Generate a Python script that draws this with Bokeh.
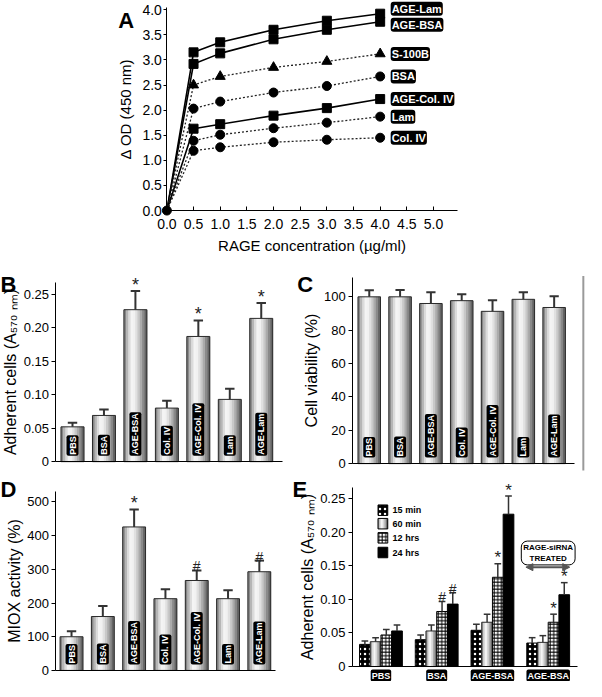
import math
from bokeh.plotting import figure
from bokeh.models import Range1d, FixedTicker, Label, Arrow, NormalHead, NumeralTickFormatter
from bokeh.layouts import column, row
from bokeh.core.properties import value
from bokeh.embed import file_html
from bokeh.resources import INLINE

FONT = "Liberation Sans"

# ---------------- Panel A data ----------------
conc = [0, 0.5, 1.0, 2.0, 3.0, 4.0]
a_names = ["AGE-Lam", "AGE-BSA", "S-100B", "BSA", "AGE-Col. IV", "Lam", "Col. IV"]
a_age_lam = [0, 3.15, 3.35, 3.60, 3.78, 3.92]
a_age_bsa = [0, 2.92, 3.13, 3.41, 3.60, 3.76]
a_s100b = [0, 2.50, 2.67, 2.85, 2.97, 3.12]
a_bsa = [0, 2.03, 2.17, 2.35, 2.48, 2.67]
a_age_col = [0, 1.63, 1.72, 1.89, 2.04, 2.22]
a_lam = [0, 1.39, 1.51, 1.64, 1.75, 1.87]
a_col = [0, 1.19, 1.26, 1.36, 1.41, 1.45]
a_markers = ["square", "square", "triangle", "circle", "square", "circle", "circle"]
a_solid = [True, True, False, False, True, False, False]
a_label_nudge = [-5, 3, 0, 0, 0, 0, 0]
a_xticks = [0, 0.5, 1.0, 1.5, 2.0, 2.5, 3.0, 3.5, 4.0, 4.5, 5.0]
a_yticks = [0, 0.5, 1.0, 1.5, 2.0, 2.5, 3.0, 3.5, 4.0]

# ---------------- Panels B, C, D data ----------------
treatments = ["PBS", "BSA", "AGE-BSA", "Col. IV", "AGE-Col. IV", "Lam", "AGE-Lam"]
b_vals = [0.052, 0.069, 0.227, 0.080, 0.187, 0.093, 0.214]
b_errs = [0.058, 0.078, 0.255, 0.091, 0.211, 0.109, 0.237]
b_marks = ["", "", "*", "", "*", "", "*"]
b_yticks = [0, 0.05, 0.10, 0.15, 0.20, 0.25]

c_vals = [100.0, 100.0, 96.0, 97.7, 91.3, 98.5, 93.6]
c_errs = [103.9, 104.1, 102.8, 101.6, 98.0, 102.8, 100.4]
c_yticks = [0, 20, 40, 60, 80, 100]

d_vals = [100, 160, 426, 213, 267, 213, 293]
d_errs = [116, 191, 478, 241, 297, 238, 326]
d_marks = ["", "", "*", "", "#", "", "#"]
d_yticks = [0, 100, 200, 300, 400, 500]

# ---------------- Panel E data ----------------
e_groups = ["PBS", "BSA", "AGE-BSA", "AGE-BSA"]
e_series = ["15 min", "60 min", "12 hrs", "24 hrs"]
e_15 = [0.033, 0.040, 0.054, 0.035]
e_15_err = [0.038, 0.047, 0.063, 0.043]
e_60 = [0.037, 0.053, 0.066, 0.036]
e_60_err = [0.043, 0.062, 0.078, 0.046]
e_12 = [0.047, 0.082, 0.133, 0.066]
e_12_err = [0.055, 0.097, 0.153, 0.078]
e_24 = [0.053, 0.093, 0.227, 0.107]
e_24_err = [0.062, 0.110, 0.254, 0.125]
e_12_marks = ["", "#", "*", "*"]
e_24_marks = ["", "#", "*", "*"]
e_yticks = [0, 0.05, 0.10, 0.15, 0.20, 0.25]
e_note = "RAGE-siRNA\nTREATED"

# reference-image pixel -> page pixel (page has an 8px margin)
SX, SY = 0.973, 0.977


def grad_color(t):
    peak = 0.38
    if t < peak:
        b = 0.97 - 0.55 * ((peak - t) / peak) ** 1.5
    else:
        b = 0.97 - 0.65 * ((t - peak) / (1 - peak)) ** 1.5
    v = int(round(max(0, min(1, b)) * 255))
    return "#%02x%02x%02x" % (v, v, v)


class Panel:
    """A figure whose frame fills its canvas; axes are drawn at fixed data locations."""

    def __init__(self, canvas, ax_ref, ay_ref, x_at_axis, pux_ref, puy_ref, xbounds, ybounds):
        l, t, r, b = canvas
        self.ax = 8 + SX * ax_ref
        self.ay = 8 + SY * ay_ref
        self.x0 = x_at_axis
        self.pux = pux_ref * SX
        self.puy = puy_ref * SY
        xs = x_at_axis - (self.ax - l) / self.pux
        xe = x_at_axis + (r - self.ax) / self.pux
        ys = -(b - self.ay) / self.puy
        ye = (self.ay - t) / self.puy
        p = figure(width=r - l, height=b - t, x_range=Range1d(xs, xe), y_range=Range1d(ys, ye),
                   output_backend="svg", toolbar_location=None, title=None,
                   min_border_left=0, min_border_right=0, min_border_top=0, min_border_bottom=0)
        p.grid.visible = False
        p.outline_line_color = None
        p.background_fill_color = "white"
        p.border_fill_color = "white"
        for axis in (p.xaxis[0], p.yaxis[0]):
            axis.minor_tick_line_color = None
            axis.axis_line_color = "black"
            axis.major_tick_line_color = "black"
            axis.major_label_text_font = FONT
            axis.major_label_text_color = "black"
            axis.axis_label_text_font = FONT
            axis.axis_label_text_font_style = "normal"
            axis.axis_label_text_color = "black"
        p.xaxis[0].fixed_location = 0
        p.yaxis[0].fixed_location = x_at_axis
        p.xaxis[0].bounds = xbounds
        p.yaxis[0].bounds = ybounds
        self.p = p

    def rx(self, ref_x):
        return self.x0 + (8 + SX * ref_x - self.ax) / self.pux

    def ry(self, ref_y):
        return (self.ay - (8 + SY * ref_y)) / self.puy

    def letter(self, txt, ref_left, ref_base):
        self.p.text(x=[self.rx(ref_left)], y=[self.ry(ref_base)], text=[txt], text_font=value(FONT),
                    text_font_style="bold", text_font_size="22px", text_color="black",
                    text_align="left", text_baseline="alphabetic")


def bar_axes(p, ticks, fmt, label, label_size="16px"):
    ax = p.yaxis[0]
    ax.ticker = FixedTicker(ticks=ticks)
    ax.formatter = NumeralTickFormatter(format=fmt)
    ax.major_label_overrides = {0: "0"}
    ax.major_tick_out = 4
    ax.major_tick_in = 0
    ax.major_label_standoff = 3
    ax.major_label_text_font_size = "13px"
    ax.axis_label = label
    ax.axis_label_text_font_size = label_size
    ax.axis_label_standoff = 1
    xa = p.xaxis[0]
    xa.ticker = FixedTicker(ticks=[])
    xa.major_tick_out = 0
    xa.major_tick_in = 0


def gradient_bars(p, xs, tops, width, n=10):
    sx, sw, st, sc = [], [], [], []
    for x, top in zip(xs, tops):
        for j in range(n):
            t = (j + 0.5) / n
            sx.append(x - width / 2 + t * width)
            sw.append(width / n * 1.2)
            st.append(top)
            sc.append(grad_color(t))
    p.vbar(x=sx, width=sw, top=st, bottom=0, fill_color=sc, line_color=None)
    p.vbar(x=xs, width=width, top=tops, bottom=0, fill_color=None,
           line_color="#2a2a2a", line_width=1)


def error_bars(p, xs, tops, errs, cap, lw=2, color="#333333"):
    p.segment(x0=xs, y0=tops, x1=xs, y1=errs, line_color=color, line_width=lw)
    p.segment(x0=[x - cap / 2 for x in xs], y0=errs, x1=[x + cap / 2 for x in xs], y1=errs,
              line_color=color, line_width=lw)


def marks(p, xs, errs, txts, size_star="18px", size_hash="14px"):
    sx = [x for x, t in zip(xs, txts) if t == "*"]
    sy = [e for e, t in zip(errs, txts) if t == "*"]
    hx = [x for x, t in zip(xs, txts) if t == "#"]
    hy = [e for e, t in zip(errs, txts) if t == "#"]
    if sx:
        p.text(x=sx, y=sy, text=["*"] * len(sx), text_font=value(FONT), text_font_size=size_star,
               text_align="center", text_baseline="alphabetic", y_offset=-6, text_color="#222222")
    if hx:
        p.text(x=hx, y=hy, text=["#"] * len(hx), text_font=value(FONT), text_font_size=size_hash,
               text_align="center", text_baseline="alphabetic", y_offset=-4, text_color="#222222")


def bar_labels(p, xs, names):
    p.text(x=xs, y=[0] * len(xs), text=names, angle=math.pi / 2, text_align="left",
           text_baseline="middle", y_offset=-6, text_color="white", text_font=value(FONT),
           text_font_style="bold", text_font_size="9px", background_fill_color="black",
           border_radius=2, padding=1)


# ================= Panel A =================
A = Panel((8, 8, 594, 264), 171, 215, 0, 54.8, 51.4, (0, 5.456), (0, 4.05))
pa = A.p
xa = pa.xaxis[0]
xa.ticker = FixedTicker(ticks=a_xticks)
xa.formatter = NumeralTickFormatter(format="0.0")
xa.major_tick_in = 4
xa.major_tick_out = 0
xa.major_label_standoff = 8
xa.major_label_text_font_size = "14px"
xa.axis_label = "RAGE concentration (\u00b5g/ml)"
xa.axis_label_text_font_size = "15px"
xa.axis_label_standoff = 5
ya = pa.yaxis[0]
ya.ticker = FixedTicker(ticks=a_yticks)
ya.formatter = NumeralTickFormatter(format="0.0")
ya.major_tick_out = 3
ya.major_tick_in = 0
ya.major_label_standoff = 2
ya.major_label_text_font_size = "14px"
ya.axis_label = "\u0394 OD (450 nm)"
ya.axis_label_text_font_size = "15px"
ya.axis_label_standoff = 5

a_series = [a_age_lam, a_age_bsa, a_s100b, a_bsa, a_age_col, a_lam, a_col]
for ys, solid in zip(a_series, a_solid):
    if solid:
        pa.line(conc, ys, line_color="black", line_width=1.6)
    else:
        pa.line(conc, ys, line_color="#222222", line_width=1.3, line_dash="2 2")
for ys, mk in zip(a_series, a_markers):
    sz = {"square": 9, "triangle": 10, "circle": 9}[mk]
    pa.scatter(conc[1:], ys[1:], marker=mk, size=sz, fill_color="black", line_color="black")
pa.scatter([conc[0]], [a_series[0][0]], marker="circle", size=9, fill_color="black", line_color="black")
pa.text(x=[A.rx(401)] * len(a_names), y=[s[-1] for s in a_series], text=a_names,
        y_offset=a_label_nudge, text_align="left", text_baseline="middle",
        text_color="white", text_font=value(FONT), text_font_style="bold", text_font_size="11px",
        background_fill_color="black", border_radius=3, padding=1)
A.letter("A", 121, 20)

# ================= Panel B =================
xs7 = list(range(1, len(treatments) + 1))
B = Panel((8, 264, 300, 479), 57, 472, 1 - 17 / 32.33, 32.33, (472 - 300.7) / 0.25,
          (1 - 17 / 32.33, 7.68), (0, 0.268))
pb = B.p
bar_axes(pb, b_yticks, "0.00", "Adherent cells (A\u2085\u2087\u2080 \u2099\u2098)")
gradient_bars(pb, xs7, b_vals, 0.73)
error_bars(pb, xs7, b_vals, b_errs, 0.3)
marks(pb, xs7, b_errs, b_marks)
bar_labels(pb, xs7, treatments)
B.letter("B", 0, 290.7)

# ================= Panel C =================
C = Panel((300, 264, 594, 479), 362, 474, 1 - 17 / 31.67, 31.67, (474 - 303.3) / 100,
          (1 - 17 / 31.67, 7.66), (0, 111.7))
pc = C.p
bar_axes(pc, c_yticks, "0", "Cell viability (%)", "16px")
gradient_bars(pc, xs7, c_vals, 0.73)
error_bars(pc, xs7, c_vals, c_errs, 0.3)
bar_labels(pc, xs7, treatments)
pc.segment(x0=[C.rx(599)], y0=[C.ry(282)], x1=[C.rx(599)], y1=[C.ry(481)],
           line_color="#9a9a9a", line_width=2)
C.letter("C", 305, 290.7)

# ================= Panel D =================
D = Panel((8, 479, 300, 689), 57, 685.7, 1 - 16 / 32.17, 32.17, (685.7 - 513.3) / 500,
          (1 - 16 / 32.17, 7.53), (0, 532))
pd_ = D.p
bar_axes(pd_, d_yticks, "0", "MIOX activity (%)")
gradient_bars(pd_, xs7, d_vals, 0.73)
error_bars(pd_, xs7, d_vals, d_errs, 0.3)
marks(pd_, xs7, d_errs, d_marks)
bar_labels(pd_, xs7, treatments)
D.letter("D", 0, 500)

# ================= Panel E =================
E = Panel((300, 479, 594, 689), 361.7, 681.7, 1 - 29.3 / 57.3, 57.3, (681.7 - 510) / 0.25,
          (1 - 29.3 / 57.3, 4.525), (0, 0.267))
pe = E.p
bar_axes(pe, e_yticks, "0.00", "Adherent cells (A\u2085\u2087\u2080 \u2099\u2098)")
bw = 0.192
gx = list(range(1, len(e_groups) + 1))
x15 = [g - 1.5 * bw for g in gx]
x60 = [g - 0.5 * bw for g in gx]
x12 = [g + 0.5 * bw for g in gx]
x24 = [g + 1.5 * bw for g in gx]
pe.vbar(x=x15, width=bw, top=e_15, bottom=0, fill_color="black", line_color="black",
        hatch_pattern="dot", hatch_color="white", hatch_scale=5, hatch_weight=2)
gradient_bars(pe, x60, e_60, bw, n=6)
pe.vbar(x=x12, width=bw, top=e_12, bottom=0, fill_color="white", line_color="black",
        hatch_pattern="cross", hatch_color="black", hatch_scale=3.5, hatch_weight=1)
pe.vbar(x=x24, width=bw, top=e_24, bottom=0, fill_color="black", line_color="black")
for xx, vv, ee in ((x15, e_15, e_15_err), (x60, e_60, e_60_err), (x12, e_12, e_12_err), (x24, e_24, e_24_err)):
    error_bars(pe, xx, vv, ee, 0.12, lw=1.5)
marks(pe, x12, e_12_err, e_12_marks, "17px", "14px")
marks(pe, x24, e_24_err, e_24_marks, "17px", "14px")
pe.text(x=gx, y=[0] * len(gx), text=e_groups, text_align="center", text_baseline="top",
        y_offset=3, text_color="white", text_font=value(FONT), text_font_style="bold",
        text_font_size="9px", background_fill_color="black", border_radius=2, padding=1)
# legend swatches
leg_x0, leg_x1 = E.rx(388), E.rx(398)
leg_y = [E.ry(521.7), E.ry(535.5), E.ry(550), E.ry(565)]
leg_h = 10.5 / E.puy
leg_xc, leg_w = (leg_x0 + leg_x1) / 2, leg_x1 - leg_x0
pe.vbar(x=[leg_xc], width=leg_w, top=[leg_y[0] + leg_h / 2], bottom=[leg_y[0] - leg_h / 2],
        fill_color="black", line_color="black", hatch_pattern="dot", hatch_color="white",
        hatch_scale=5, hatch_weight=2)
for j in range(6):
    t = (j + 0.5) / 6
    pe.vbar(x=[leg_x0 + t * leg_w], width=leg_w / 6 * 1.2, top=[leg_y[1] + leg_h / 2],
            bottom=[leg_y[1] - leg_h / 2], fill_color=grad_color(t), line_color=None)
pe.vbar(x=[leg_xc], width=leg_w, top=[leg_y[1] + leg_h / 2], bottom=[leg_y[1] - leg_h / 2],
        fill_color=None, line_color="black")
pe.vbar(x=[leg_xc], width=leg_w, top=[leg_y[2] + leg_h / 2], bottom=[leg_y[2] - leg_h / 2],
        fill_color="white", line_color="black", hatch_pattern="cross", hatch_color="black",
        hatch_scale=3.5, hatch_weight=1)
pe.vbar(x=[leg_xc], width=leg_w, top=[leg_y[3] + leg_h / 2], bottom=[leg_y[3] - leg_h / 2],
        fill_color="black", line_color="black")
pe.text(x=[E.rx(403)] * 4, y=leg_y, text=e_series, text_align="left", text_baseline="middle",
        text_font=value(FONT), text_font_style="bold", text_font_size="9px", text_color="black")
pe.add_layout(Label(x=gx[-1], y=E.ry(565.5), text=e_note, text_align="center", text_baseline="middle",
                    text_font=FONT, text_font_style="bold", text_font_size="8px", text_color="black",
                    background_fill_color="white", border_line_color="black", border_line_width=1,
                    border_radius=6, padding=2))
pe.add_layout(Arrow(x_start=E.rx(540), y_start=E.ry(580), x_end=E.rx(585), y_end=E.ry(580),
                    line_color="#555555", line_width=2,
                    start=NormalHead(size=7, fill_color="#555555", line_color="#555555"),
                    end=NormalHead(size=7, fill_color="#555555", line_color="#555555")))
E.letter("E", 300, 500.7)

layout = column(pa, row(pb, pc), row(pd_, pe))
open("out.html", "w").write(file_html(layout, INLINE))
